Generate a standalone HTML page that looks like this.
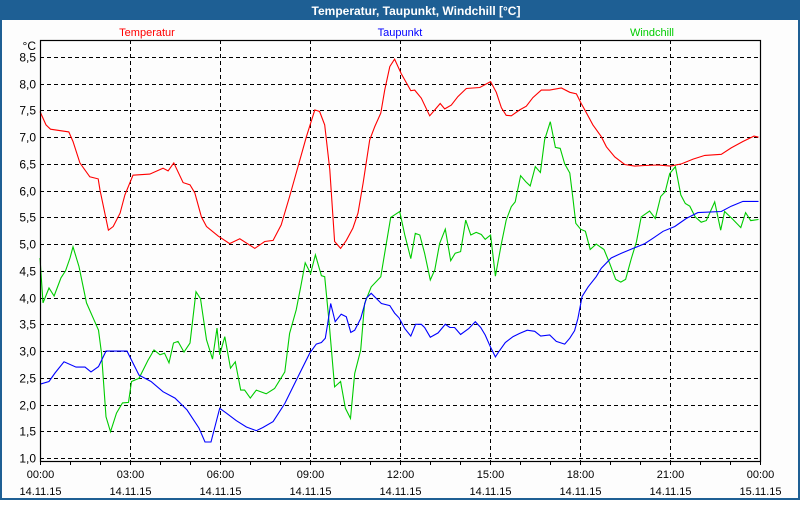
<!DOCTYPE html>
<html><head><meta charset="utf-8"><style>
body{margin:0;width:800px;height:500px;overflow:hidden;background:#fff;font-family:"Liberation Sans","DejaVu Sans",sans-serif}
svg text{font-family:"Liberation Sans","DejaVu Sans",sans-serif}
</style></head><body>
<svg id="chart" width="800" height="500" xmlns="http://www.w3.org/2000/svg">
<rect x="0" y="0" width="800" height="500" fill="#1e5f94"/>
<rect x="2" y="20" width="796" height="478" fill="#fdfdfd"/>
<text x="416" y="15" text-anchor="middle" font-size="12" font-weight="bold" fill="#fff">Temperatur, Taupunkt, Windchill [°C]</text>
<text x="147" y="36" text-anchor="middle" font-size="11" fill="#ff0000">Temperatur</text>
<text x="400" y="36" text-anchor="middle" font-size="11" fill="#0000ff">Taupunkt</text>
<text x="652" y="36" text-anchor="middle" font-size="11" fill="#00cc00">Windchill</text>
<text x="36" y="50" text-anchor="end" font-size="12" fill="#000">°C</text>
<g id="grid"></g><g id="series"></g><g id="axes"></g>
</svg>
<script>
const yTicks=[1.0,1.5,2.0,2.5,3.0,3.5,4.0,4.5,5.0,5.5,6.0,6.5,7.0,7.5,8.0,8.5];
const xTickHours=[0,3,6,9,12,15,18,21,24];
const xTimeLabels=["00:00","03:00","06:00","09:00","12:00","15:00","18:00","21:00","00:00"];
const xDateLabels=["14.11.15","14.11.15","14.11.15","14.11.15","14.11.15","14.11.15","14.11.15","14.11.15","15.11.15"];
const tempT=[0,0.2,0.35,0.96,1.1,1.33,1.66,1.94,2.0,2.28,2.44,2.67,2.83,3.1,3.66,4.1,4.27,4.46,4.77,5.0,5.16,5.38,5.55,5.94,6.32,6.66,7.16,7.49,7.77,8.04,8.32,8.6,8.88,9.16,9.32,9.49,9.66,9.82,10.02,10.21,10.43,10.6,10.77,10.99,11.16,11.36,11.49,11.66,11.82,12.04,12.16,12.36,12.49,12.71,12.99,13.16,13.34,13.49,13.71,13.93,14.21,14.66,15.02,15.21,15.38,15.54,15.71,15.99,16.21,16.43,16.71,16.99,17.38,17.66,17.88,18.04,18.16,18.43,18.71,18.88,19.16,19.49,19.82,20.16,20.6,21.02,21.38,21.77,22.16,22.71,23.04,23.43,23.8,23.95];
const tempV=[7.48,7.23,7.15,7.10,6.92,6.52,6.26,6.22,6.01,5.26,5.33,5.58,5.92,6.29,6.31,6.42,6.37,6.52,6.15,6.11,5.96,5.51,5.33,5.15,5.01,5.10,4.92,5.05,5.07,5.36,5.89,6.45,7.01,7.51,7.48,7.23,6.39,5.05,4.92,5.07,5.30,5.58,6.14,6.95,7.20,7.45,7.88,8.32,8.46,8.19,8.07,7.87,7.88,7.73,7.40,7.51,7.63,7.53,7.60,7.76,7.91,7.93,8.04,7.84,7.55,7.41,7.40,7.51,7.58,7.74,7.88,7.88,7.92,7.84,7.81,7.63,7.51,7.23,7.01,6.82,6.63,6.49,6.46,6.47,6.48,6.46,6.50,6.59,6.66,6.68,6.80,6.92,7.02,7.00];
const dewT=[0,0.3,0.5,0.8,1.2,1.5,1.7,1.95,2.2,2.5,2.9,3.3,3.7,4.1,4.5,4.9,5.3,5.5,5.7,5.99,6.21,6.54,6.88,7.21,7.43,7.77,8.16,8.6,8.99,9.21,9.38,9.51,9.6,9.69,9.84,10.04,10.21,10.36,10.49,10.69,10.88,11.04,11.38,11.66,11.82,11.97,12.16,12.36,12.52,12.71,12.82,13.01,13.27,13.51,13.66,13.82,14.02,14.29,14.51,14.69,14.84,15.02,15.18,15.32,15.51,15.77,15.99,16.24,16.49,16.69,16.99,17.21,17.49,17.66,17.82,17.93,18.07,18.27,18.54,18.71,19.04,19.38,19.77,20.16,20.43,20.77,21.16,21.54,21.93,22.71,23.04,23.43,23.95];
const dewV=[2.38,2.43,2.59,2.80,2.70,2.70,2.61,2.71,3.0,3.0,3.0,2.55,2.43,2.24,2.12,1.90,1.56,1.30,1.30,1.93,1.84,1.70,1.58,1.51,1.57,1.68,2.02,2.52,2.96,3.13,3.16,3.24,3.55,3.89,3.55,3.69,3.64,3.35,3.39,3.61,3.99,4.08,3.89,3.85,3.71,3.62,3.42,3.28,3.50,3.50,3.44,3.26,3.34,3.50,3.44,3.44,3.31,3.42,3.55,3.44,3.30,3.07,2.89,3.01,3.16,3.27,3.33,3.39,3.37,3.28,3.30,3.18,3.13,3.24,3.38,3.61,4.02,4.20,4.39,4.55,4.74,4.83,4.92,5.01,5.11,5.24,5.33,5.48,5.59,5.61,5.71,5.80,5.80];
const chillT=[0,0.1,0.3,0.47,0.7,0.85,1.0,1.1,1.3,1.55,1.85,1.95,2.05,2.2,2.35,2.55,2.75,2.95,3.05,3.3,3.6,3.8,4.0,4.15,4.3,4.45,4.6,4.8,5.0,5.2,5.35,5.55,5.75,5.9,5.99,6.16,6.35,6.51,6.69,6.82,7.01,7.21,7.54,7.82,8.16,8.32,8.54,8.69,8.84,9.02,9.18,9.38,9.49,9.63,9.82,10.02,10.18,10.35,10.49,10.69,10.82,11.04,11.36,11.49,11.69,11.99,12.16,12.36,12.51,12.66,12.82,13.01,13.16,13.32,13.51,13.69,13.84,14.02,14.19,14.36,14.54,14.71,14.84,15.02,15.18,15.38,15.54,15.71,15.84,16.02,16.19,16.34,16.51,16.68,16.82,17.01,17.18,17.34,17.49,17.66,17.77,17.86,18.02,18.18,18.34,18.54,18.8,18.99,19.19,19.36,19.52,19.71,19.88,20.04,20.32,20.51,20.69,20.84,20.99,21.18,21.36,21.51,21.66,21.84,22.04,22.21,22.49,22.69,22.82,23.1,23.36,23.52,23.69,23.95];
const chillV=[4.74,3.90,4.18,4.03,4.37,4.5,4.74,4.95,4.58,3.90,3.52,3.39,2.96,1.77,1.49,1.84,2.03,2.04,2.43,2.49,2.83,3.02,2.93,2.96,2.78,3.15,3.18,2.98,3.15,4.11,3.98,3.21,2.85,3.43,2.93,3.27,2.68,2.80,2.27,2.27,2.12,2.27,2.20,2.30,2.61,3.33,3.77,4.20,4.65,4.45,4.80,4.41,4.39,3.58,2.33,2.43,1.93,1.74,2.58,3.02,3.89,4.20,4.39,4.83,5.50,5.61,5.17,4.73,5.20,5.17,4.83,4.33,4.52,5.01,5.28,4.69,4.83,4.86,5.45,5.17,5.22,5.18,5.09,5.17,4.40,5.01,5.45,5.70,5.79,6.28,6.17,6.09,6.45,6.34,6.95,7.29,6.81,6.79,6.50,6.33,5.83,5.39,5.28,5.24,4.90,5.00,4.90,4.64,4.34,4.29,4.34,4.73,5.04,5.51,5.62,5.48,5.89,5.98,6.32,6.45,5.92,5.76,5.71,5.51,5.41,5.44,5.79,5.26,5.61,5.46,5.31,5.59,5.44,5.46];

const X0=40,X1=760,Y0=40,Y1=461;
const xS=h=>X0+h*(X1-X0)/24;
const yS=v=>458-(v-1.0)*(458-57)/7.5;
const NS="http://www.w3.org/2000/svg";
function mk(tag,attrs,parent){const e=document.createElementNS(NS,tag);for(const k in attrs)e.setAttribute(k,attrs[k]);parent.appendChild(e);return e;}
const grid=document.getElementById('grid'),series=document.getElementById('series'),axes=document.getElementById('axes');
yTicks.forEach(v=>{
  const y=Math.round(yS(v))+0.5;
  const l=mk('line',{x1:X0,x2:X1,y1:y,y2:y,stroke:'#000','stroke-dasharray':'4,3','stroke-width':1},grid);
  
  
  const t=mk('text',{x:36,y:y+4,'text-anchor':'end','font-size':12,fill:'#000'},axes);
  t.textContent=v.toFixed(1).replace('.',',');
  
  
});
xTickHours.forEach((h,i)=>{
  const x=Math.round(xS(h))+0.5;
  if(h>0&&h<24){
    const l=mk('line',{x1:x,x2:x,y1:Y0,y2:Y1,stroke:'#000','stroke-dasharray':'4,3','stroke-width':1},grid);
    
    
  }
  const t=mk('text',{x:x,y:478,'text-anchor':'middle','font-size':11,fill:'#000'},axes);
  t.textContent=xTimeLabels[i];
  
  
  const d=mk('text',{x:x,y:495,'text-anchor':'middle','font-size':11,fill:'#000'},axes);
  d.textContent=xDateLabels[i];
  
  
});
for(let h=0;h<=24;h++){
  const x=Math.round(xS(h))+0.5;
  const tk=mk('line',{x1:x,x2:x,y1:Y1,y2:Y1+4,stroke:'#000'},axes);
  
  
}
const fr=mk('rect',{x:X0+0.5,y:Y0+0.5,width:X1-X0,height:Y1-Y0,fill:'none',stroke:'#000','stroke-width':1.2},axes);


function line(ts,vs,color,name){
  const p=ts.map((t,i)=>xS(t).toFixed(1)+','+yS(vs[i]).toFixed(1)).join(' ');
  const pl=mk('polyline',{points:p,fill:'none',stroke:color,'stroke-width':1.1},series);
  
  
}
line(chillT,chillV,'#00cc00','windchill-line');
line(dewT,dewV,'#0000ff','taupunkt-line');
line(tempT,tempV,'#ff0000','temperatur-line');
</script>
</body></html>
